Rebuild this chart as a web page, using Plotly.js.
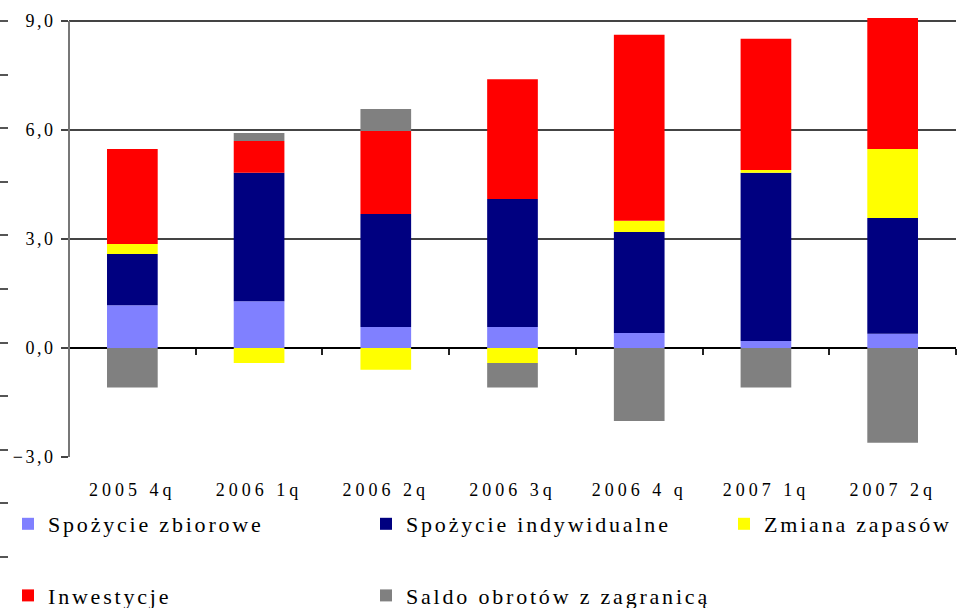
<!DOCTYPE html>
<html>
<head>
<meta charset="utf-8">
<script src="https://cdn.plot.ly/plotly-3.0.1.min.js"></script>
<style>
  html, body { margin: 0; padding: 0; background: #fff; }
  #chart { width: 964px; height: 608px; }
  svg text { letter-spacing: 2.8px; }
  .xtick text { letter-spacing: 4px; }
  .ytick text { letter-spacing: 2.5px; }
</style>
</head>
<body>
<div id="chart"></div>
<script>
// ---- data ----
const categories = ['2005 4q', '2006 1q', '2006 2q', '2006 3q', '2006 4 q', '2007 1q', '2007 2q'];
const seriesNames = ['Spożycie zbiorowe', 'Spożycie indywidualne', 'Zmiana zapasów', 'Inwestycje', 'Saldo obrotów z zagranicą'];
const spozycieZbiorowe     = [1.18, 1.29, 0.58, 0.58, 0.41, 0.19, 0.39];
const spozycieIndywidualne = [1.41, 3.53, 3.11, 3.52, 2.78, 4.63, 3.19];
const zmianaZapasow        = [0.27, -0.41, -0.60, -0.41, 0.31, 0.08, 1.90];
const inwestycje           = [2.62, 0.88, 2.28, 3.30, 5.12, 3.61, 3.60];
const saldoObrotow         = [-1.09, 0.22, 0.61, -0.68, -2.01, -1.09, -2.61];
const yTickValues = [-3, 0, 3, 6, 9];
const boundaryTicks = [-0.5, 0.5, 1.5, 2.5, 3.5, 4.5, 5.5, 6.5];
const outerTicks = [0, 1, 2, 3, 4, 5, 6, 7, 8, 9, 10];

// ---- styling ----
const colors = ['#8080FF', '#000080', '#FFFF00', '#FF0000', '#808080'];
const legendOf = ['legend', 'legend2', 'legend3', 'legend', 'legend2'];
const values = [spozycieZbiorowe, spozycieIndywidualne, zmianaZapasow, inwestycje, saldoObrotow];
const FONT = 'Liberation Serif, Times New Roman, serif';

const traces = values.map((v, i) => ({
  type: 'bar',
  name: seriesNames[i],
  x: categories,
  y: v,
  marker: { color: colors[i], line: { width: 0 } },
  legend: legendOf[i],
  legendgroup: 'g' + i,
  cliponaxis: false,
  hoverinfo: 'name+y'
}));
// helper (empty) traces so the decorative axes are drawn
traces.push({ type: 'scatter', x: [], y: [], xaxis: 'x2', yaxis: 'y', showlegend: false, hoverinfo: 'skip' });
traces.push({ type: 'scatter', x: [], y: [], xaxis: 'x', yaxis: 'y2', showlegend: false, hoverinfo: 'skip' });

const W = 964, H = 608, ML = 8, MR = 8, MT = 17, MB = 48;
const plotW = W - ML - MR, plotH = H - MT - MB;
const axisLeftPx = 69, axisBottomPx = 457, zeroPx = 348, nineTopPx = 21;
const pxPerUnit = (axisBottomPx - nineTopPx) / 12;
const yMax = 9 + (nineTopPx - MT) / pxPerUnit;
const xDomStart = (axisLeftPx - ML) / plotW;
const yDomStart = (H - MB - axisBottomPx) / plotH;
const outerPx = 53.6;

const legendCommon = {
  orientation: 'v',
  bgcolor: 'rgba(0,0,0,0)',
  borderwidth: 0,
  font: { family: FONT, size: 22, color: '#000' },
  traceorder: 'grouped',
  tracegroupgap: 40,
  xanchor: 'left',
  yanchor: 'top',
  y: (H - MB - 503) / plotH,
  itemclick: false,
  itemdoubleclick: false
};

const layout = {
  width: W,
  height: H,
  margin: { l: ML, r: MR, t: MT, b: MB, autoexpand: false },
  paper_bgcolor: '#fff',
  plot_bgcolor: 'rgba(0,0,0,0)',
  separators: ', ',
  font: { family: FONT, size: 18, color: '#000' },
  barmode: 'relative',
  bargap: 0.6,
  xaxis: {
    type: 'category',
    domain: [xDomStart, 1],
    range: [-0.5, 6.5],
    showgrid: false,
    zeroline: false,
    showline: false,
    ticks: '',
    ticklabelstandoff: 20,
    tickfont: { family: FONT, size: 18, color: '#000' },
    anchor: 'y'
  },
  xaxis2: {
    type: 'linear',
    overlaying: 'x',
    anchor: 'free',
    position: (H - MB - zeroPx) / plotH,
    range: [-0.5, 6.5],
    tickmode: 'array',
    tickvals: boundaryTicks,
    ticks: 'outside',
    ticklen: 6,
    tickwidth: 1.5,
    tickcolor: '#222',
    showticklabels: false,
    showgrid: false,
    zeroline: false,
    showline: false
  },
  yaxis: {
    domain: [yDomStart, 1],
    range: [-3, yMax],
    tickmode: 'array',
    tickvals: yTickValues,
    tickformat: '.1f',
    showgrid: true,
    gridcolor: '#444',
    gridwidth: 1.5,
    zeroline: true,
    zerolinecolor: '#000',
    zerolinewidth: 1.5,
    showline: false,
    ticks: 'outside',
    ticklen: 7,
    tickwidth: 1.5,
    tickcolor: '#444',
    ticklabelstandoff: 2,
    tickfont: { family: FONT, size: 18, color: '#000' },
    anchor: 'x'
  },
  yaxis2: {
    domain: [0, 1],
    anchor: 'free',
    position: 0,
    side: 'left',
    range: [-3 / outerPx, (plotH - 3) / outerPx],
    tickmode: 'array',
    tickvals: outerTicks,
    ticks: 'outside',
    ticklen: 8,
    tickwidth: 1.5,
    tickcolor: '#555',
    showticklabels: false,
    showgrid: false,
    zeroline: false,
    showline: false
  },
  shapes: [{
    type: 'line', xref: 'paper', yref: 'paper',
    x0: xDomStart, x1: xDomStart,
    y0: yDomStart, y1: (H - MB - nineTopPx) / plotH,
    line: { color: '#777', width: 2 }
  }],
  legend: Object.assign({}, legendCommon, { x: (8 - ML) / plotW }),
  legend2: Object.assign({}, legendCommon, { x: (366 - ML) / plotW }),
  legend3: Object.assign({}, legendCommon, { x: (724 - ML) / plotW }),
  showlegend: true
};

Plotly.newPlot('chart', traces, layout, { displayModeBar: false });
</script>
</body>
</html>
